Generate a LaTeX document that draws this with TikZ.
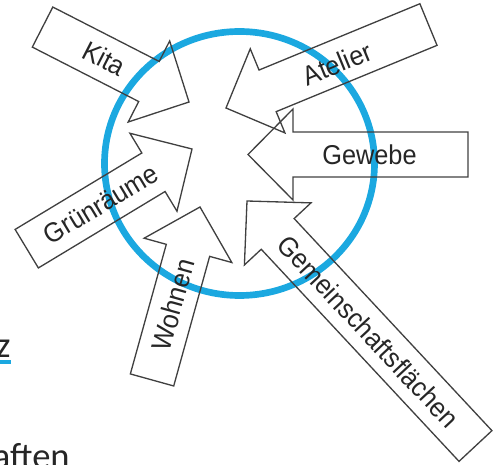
\documentclass[tikz,border=0pt]{standalone}
\usepackage{fontspec}
\setmainfont{Liberation Sans}[FakeStretch=0.93]
\newfontfamily\bodyfont{Carlito}
\usepackage{tikz}
\usetikzlibrary{calc}
\definecolor{ringblue}{HTML}{1BA8E0}
\definecolor{edgegray}{HTML}{404040}
\definecolor{labelgray}{HTML}{262626}
% block arrow pointing inwards: tip, angle, shaft length
\newcommand{\inarrow}[3]{%
  \draw[blockarr, shift={#1}, rotate=#2] (0,0) -- (-0.9,0.91) -- (-0.9,0.45)
    -- (-0.9-#3,0.45) -- (-0.9-#3,-0.45) -- (-0.9,-0.45) -- (-0.9,-0.91) -- cycle;}

\begin{document}
\begin{tikzpicture}[
  blockarr/.style={draw=edgegray, line width=0.75pt, line join=miter},
  ring/.style={draw=ringblue, line width=3.8pt},
  lbl/.style={font=\fontsize{15.5}{18}\selectfont, text=labelgray, inner sep=1pt},
  frag/.style={font=\bodyfont\fontsize{20.8}{24}\selectfont, text=labelgray,
    inner sep=0pt},
  uline/.style={draw=ringblue, line width=2pt}
]
  \useasboundingbox (0,0) rectangle (9.98,-9.30);
  \clip (0,0) rectangle (9.98,-9.30);

  % the blue ring
  \draw[ring] (4.79,-3.27) ellipse [x radius=2.70, y radius=2.64];

  % arrows into the ring
  \inarrow{(3.78,-2.04)}{-27.1}{2.39}   % Kita
  \inarrow{(4.52,-2.16)}{-157.6}{3.48}  % Atelier
  \inarrow{(4.96,-3.09)}{180}{3.50}     % Gewebe
  \inarrow{(4.94,-4.02)}{133}{5.80}     % Gemeinschaftsflaechen
  \inarrow{(4.00,-4.14)}{74.5}{2.69}    % Wohnen
  \inarrow{(3.84,-2.98)}{31.1}{2.96}    % Gruenraeume

  % labels on the shafts
  \node[lbl, rotate=-27.1] (kita) at (2.09,-1.17) {Kita};
  \node[lbl, rotate=22.4] (atelier) at (6.74,-1.27) {Atelier};
  \node[lbl] (gewebe) at (7.39,-3.10) {Gewebe};
  \node[lbl, rotate=-47] (gemein) at (7.37,-6.63) {Gemeinschaftsflächen};
  \node[lbl, rotate=74.5] (wohnen) at (3.46,-6.10) {Wohnen};
  \node[lbl, rotate=31.1] (gruen) at (2.02,-4.08) {Grünräume};

  % cut-off text of the page
  \node[frag, anchor=base east] (zfrag) at (0.22,-7.146) {z};
  \draw[uline] (0,-7.24) -- (0.22,-7.24);
  \node[frag, anchor=base east] (aften) at (1.40,-9.374) {aften};
\end{tikzpicture}
\end{document}
